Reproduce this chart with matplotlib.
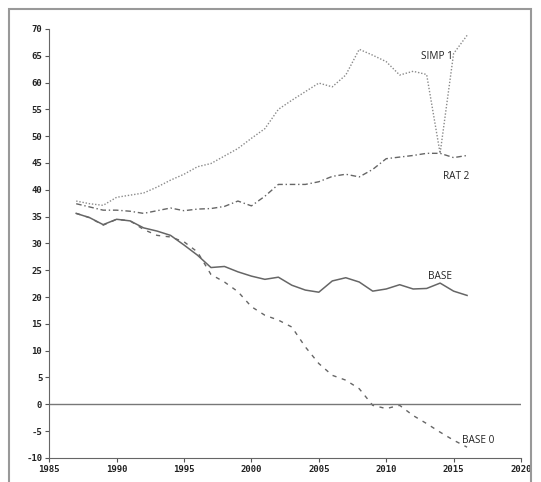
import matplotlib
matplotlib.use('Agg')
import matplotlib.pyplot as plt
from matplotlib.patches import Rectangle

plt.rcParams['axes.unicode_minus'] = False

years = list(range(1987, 2017))

simp1 = [37.9, 37.4, 37.1, 38.6, 39.0, 39.4, 40.5, 41.8, 42.9, 44.3,
         44.9, 46.3, 47.7, 49.6, 51.4, 55.0, 56.7, 58.3, 59.9, 59.2,
         61.4, 66.2, 65.1, 63.9, 61.4, 62.1, 61.5, 46.8, 65.4, 68.8]

rat2 = [37.4, 36.8, 36.2, 36.2, 36.0, 35.6, 36.1, 36.6, 36.1, 36.4,
        36.5, 36.9, 37.9, 37.0, 38.8, 41.0, 41.0, 41.0, 41.5, 42.5,
        42.9, 42.4, 43.8, 45.8, 46.1, 46.4, 46.8, 46.8, 46.0, 46.4]

base = [35.6, 34.8, 33.5, 34.5, 34.2, 32.9, 32.3, 31.5, 29.7, 27.8,
        25.5, 25.7, 24.7, 23.9, 23.3, 23.7, 22.2, 21.3, 20.9, 23.0,
        23.6, 22.8, 21.1, 21.5, 22.3, 21.5, 21.6, 22.6, 21.1, 20.3]

base0 = [35.6, 34.8, 33.4, 34.5, 34.2, 32.6, 31.5, 31.2, 30.3, 28.4,
         24.2, 22.8, 21.0, 18.2, 16.6, 15.7, 14.4, 10.7, 7.6, 5.4,
         4.5, 2.9, -0.2, -0.8, -0.2, -2.1, -3.6, -5.2, -6.7, -8.0]

labels = ['SIMP 1', 'RAT 2', 'BASE', 'BASE 0']
label_pos = [(2013.8, 64.9), (2015.2, 42.5), (2014.0, 23.8), (2016.8, -6.7)]

fig = plt.figure(figsize=(5.41, 4.82), dpi=100)
ax = fig.add_axes([0.091, 0.050, 0.872, 0.890])

ax.plot(years, simp1, color='#8a8a8a', lw=1.0, linestyle=(0, (1, 1.3)))
ax.plot(years, rat2, color='#666666', lw=1.0, linestyle=(0, (4, 2, 1, 2)))
ax.plot(years, base, color='#666666', lw=1.1, linestyle='-')
ax.plot(years, base0, color='#666666', lw=1.0, linestyle=(0, (3, 4)))
ax.axhline(0, color='#777777', lw=1.0)

for txt, (x, y) in zip(labels, label_pos):
    ax.text(x, y, txt, ha='center', va='center', fontsize=7.2,
            family='Open Sans', color='#222222')

ax.set_xlim(1985, 2020)
ax.set_ylim(-10, 70)
ax.set_xticks(range(1985, 2021, 5))
ax.set_yticks(range(-10, 71, 5))
ax.tick_params(direction='out', length=3, width=0.8, colors='#555555',
               labelcolor='#222222', labelsize=6.5, pad=2)
for lab in ax.get_xticklabels() + ax.get_yticklabels():
    lab.set_family('DejaVu Sans Mono')
    lab.set_fontweight('bold')

ax.spines['top'].set_visible(False)
ax.spines['right'].set_visible(False)
ax.spines['left'].set_color('#666666')
ax.spines['bottom'].set_color('#666666')

# outer frame round the whole chart
fig.patches.append(Rectangle((9 / 541, -0.05), (531 - 9) / 541, 1.05 - 9 / 482,
                             transform=fig.transFigure, fill=False,
                             edgecolor='#999999', lw=1.5))

fig.savefig('out.png', dpi=100)
